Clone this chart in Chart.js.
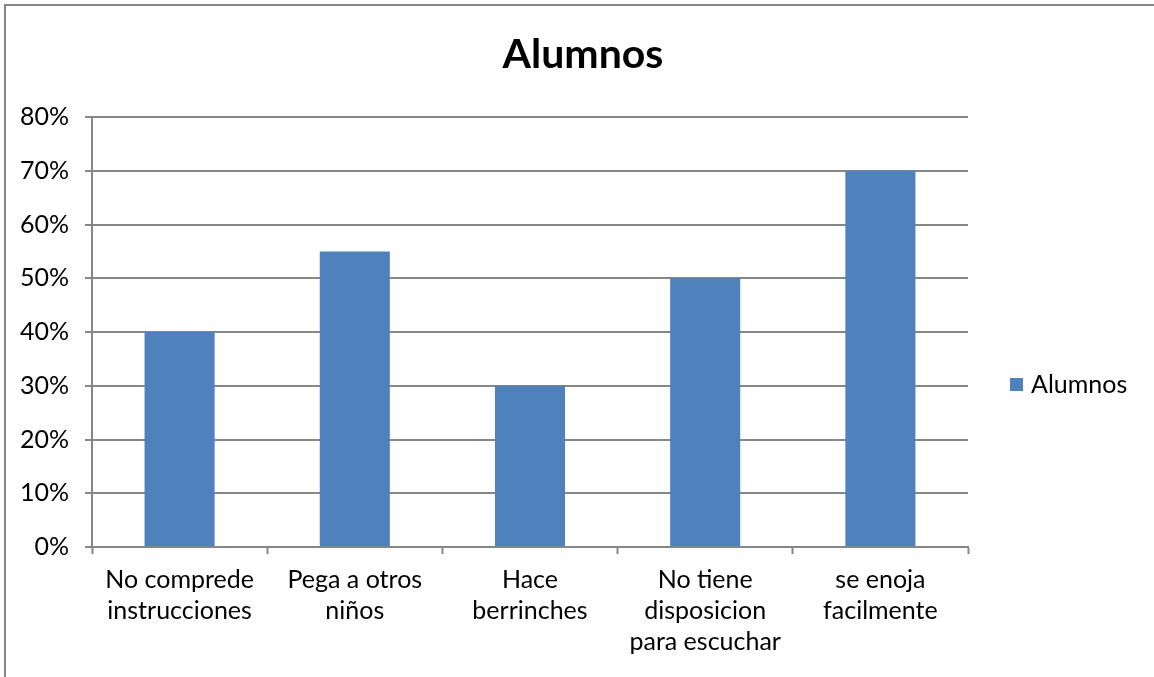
<!DOCTYPE html>
<html>
<head>
<meta charset="utf-8">
<script src="https://cdn.jsdelivr.net/npm/chart.js@4.4.0/dist/chart.umd.min.js"></script>
<style>
    html, body { margin: 0; padding: 0; background: #fff; overflow: hidden; }
    #wrap { position: relative; width: 1154px; height: 677px; }
    #frame {
        position: absolute; left: 4px; top: 4px; right: -4px; bottom: -4px;
        border-left: 2px solid #868686; border-top: 2px solid #868686;
        pointer-events: none;
    }
    canvas { position: absolute; left: 0; top: 0; }
</style>
</head>
<body>
<div id="wrap">
    <canvas id="chart" width="1154" height="677"></canvas>
    <div id="frame"></div>
</div>
<script>
// Chart data
const categories = [
    ['No comprede', 'instrucciones'],
    ['Pega a otros', 'niños'],
    ['Hace', 'berrinches'],
    ['No tiene', 'disposicion', 'para escuchar'],
    ['se enoja', 'facilmente']
];
const alumnos = [0.40, 0.55, 0.30, 0.50, 0.70];
const yTicks = [0, 0.1, 0.2, 0.3, 0.4, 0.5, 0.6, 0.7, 0.8];
const chartTitle = 'Alumnos';

const FONT = 'Lato, "Open Sans", sans-serif';
const GREY = '#868686';
const BLUE = '#4F81BD';

// Title centred on the whole canvas + legend at the right side, Excel style
const excelDecor = {
    id: 'excelDecor',
    afterDraw(chart) {
        const ctx = chart.ctx;
        const ds = chart.data.datasets[0];
        ctx.save();
        ctx.fillStyle = '#000';
        ctx.font = 'bold 41px ' + FONT;
        ctx.textAlign = 'center';
        ctx.textBaseline = 'alphabetic';
        ctx.fillText(chartTitle, 583, 68);

        ctx.fillStyle = ds.backgroundColor;
        ctx.fillRect(1010, 378, 13, 13);
        ctx.fillStyle = '#000';
        ctx.font = '25px ' + FONT;
        ctx.textBaseline = 'middle';
        ctx.textAlign = 'left';
        ctx.fillText(ds.label, 1031, 385);
        ctx.restore();
    }
};

const ctx = document.getElementById('chart');
new Chart(ctx, {
    type: 'bar',
    data: {
        labels: categories,
        datasets: [{
            label: 'Alumnos',
            data: alumnos,
            backgroundColor: BLUE,
            borderWidth: 0,
            categoryPercentage: 1,
            barPercentage: 0.4
        }]
    },
    options: {
        responsive: false,
        animation: false,
        layout: { padding: { left: 0, right: 186, top: 117, bottom: 0 } },
        plugins: {
            legend: { display: false },
            tooltip: { enabled: false },
            title: { display: false }
        },
        scales: {
            x: {
                afterFit(scale) { scale.height = 130; },
                grid: {
                    drawOnChartArea: false,
                    drawTicks: true,
                    tickLength: 7,
                    tickWidth: 2,
                    tickColor: GREY,
                    offset: true
                },
                border: { display: true, color: GREY, width: 2 },
                ticks: {
                    color: '#000',
                    font: { family: FONT, size: 25, lineHeight: 1.25 },
                    maxRotation: 0,
                    autoSkip: false,
                    padding: 10
                }
            },
            y: {
                min: 0,
                max: 0.8,
                afterFit(scale) { scale.width = 92; },
                afterBuildTicks(scale) {
                    scale.ticks = yTicks.map(v => ({ value: v }));
                },
                grid: {
                    color: GREY,
                    lineWidth: 2,
                    drawTicks: true,
                    tickLength: 7,
                    tickColor: GREY
                },
                border: { display: true, color: GREY, width: 2 },
                ticks: {
                    color: '#000',
                    font: { family: FONT, size: 25 },
                    padding: 16,
                    callback: v => Math.round(v * 100) + '%'
                }
            }
        }
    },
    plugins: [excelDecor]
});
</script>
</body>
</html>
